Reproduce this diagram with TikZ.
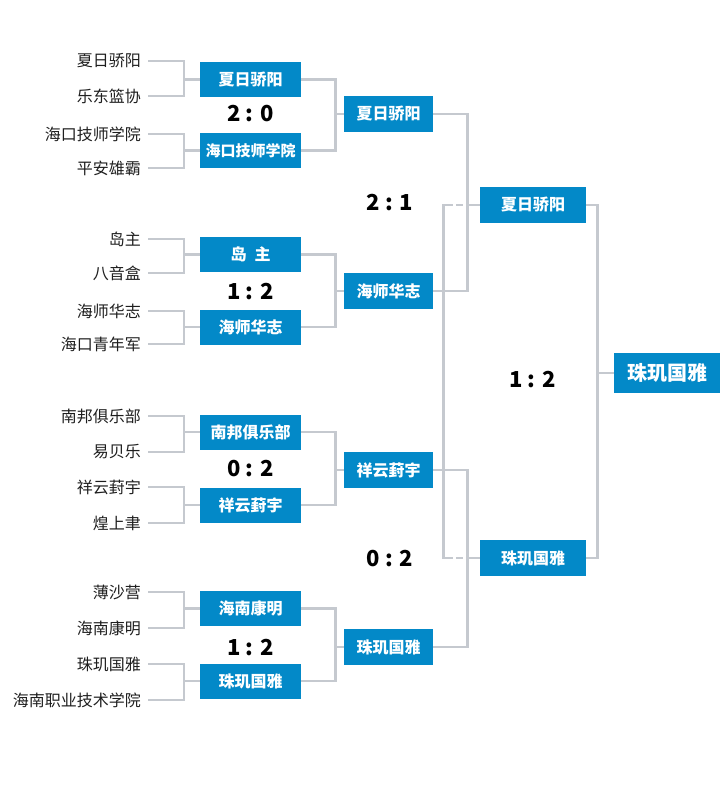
\documentclass[tikz,border=0pt]{standalone}
\usepackage{fontspec}
\setmainfont{Noto Sans CJK SC}
\definecolor{boxblue}{HTML}{0389C8}
\definecolor{linegray}{HTML}{C5C9CF}
\definecolor{namegray}{HTML}{1E1E1E}

\begin{document}
\begin{tikzpicture}[x=1pt,y=-1pt,
    link/.style={draw=linegray,line width=2.8pt},
    cross dash/.style={dash pattern=on 14pt off 3pt on 7pt off 3pt on 371pt off 3pt on 7pt off 3pt on 30pt},
    team node/.style={anchor=east,inner xsep=7pt,inner ysep=0pt,text=namegray,font=\fontsize{16}{16}\selectfont},
    win node/.style={fill=boxblue,text=white,inner sep=0pt,minimum height=35pt,font=\bfseries\fontsize{16}{16}\selectfont},
    score node/.style={inner sep=0pt,font=\bfseries\fontsize{22}{22}\selectfont}]

    \useasboundingbox (0,0) rectangle (721,808);

    % teams
    \node[team node] (1) at (148,61) {夏日骄阳};
    \node[team node] (2) at (148,96) {乐东篮协};
    \node[team node] (3) at (148,134) {海口技师学院};
    \node[team node] (4) at (148,168) {平安雄霸};
    \node[team node] (5) at (148,239) {岛主};
    \node[team node] (6) at (148,273) {八音盒};
    \node[team node] (7) at (148,311) {海师华志};
    \node[team node] (8) at (148,344) {海口青年军};
    \node[team node] (9) at (148,416) {南邦俱乐部};
    \node[team node] (10) at (148,452) {易贝乐};
    \node[team node] (11) at (148,487) {祥云葑宇};
    \node[team node] (12) at (148,523) {煌上聿};
    \node[team node] (13) at (148,592) {薄沙营};
    \node[team node] (14) at (148,628) {海南康明};
    \node[team node] (15) at (148,664) {珠玑国雅};
    \node[team node] (16) at (148,700) {海南职业技术学院};

    % first round
    \node[win node,minimum width=101pt] (w1) at (250.5,79.5) {夏日骄阳};
    \node[win node,minimum width=101pt,font=\bfseries\fontsize{15}{15}\selectfont] (w2) at (250.5,150.5) {海口技师学院};
    \node[win node,minimum width=101pt] (w3) at (250.5,254.5) {岛\enspace 主};
    \node[win node,minimum width=101pt] (w4) at (250.5,327) {海师华志};
    \node[win node,minimum width=101pt] (w5) at (250.5,432) {南邦俱乐部};
    \node[win node,minimum width=101pt] (w6) at (250.5,505) {祥云葑宇};
    \node[win node,minimum width=101pt] (w7) at (250.5,608.5) {海南康明};
    \node[win node,minimum width=101pt] (w8) at (250.5,681) {珠玑国雅};

    \node[score node] (r1) at (250.5,114) {2 : 0};
    \node[score node] (r2) at (250.5,292) {1 : 2};
    \node[score node] (r3) at (250.5,469) {0 : 2};
    \node[score node] (r4) at (250.5,648) {1 : 2};

    % second round
    \node[win node,minimum width=89pt,minimum height=36pt] (s1) at (388.5,114) {夏日骄阳};
    \node[win node,minimum width=89pt,minimum height=36pt] (s2) at (388.5,291) {海师华志};
    \node[win node,minimum width=89pt,minimum height=36pt] (s3) at (388.5,470) {祥云葑宇};
    \node[win node,minimum width=89pt,minimum height=36pt] (s4) at (388.5,647) {珠玑国雅};

    \node[score node] (r5) at (390,203) {2 : 1};
    \node[score node] (r6) at (390,559) {0 : 2};

    % semi-final and final
    \node[win node,minimum width=106pt,minimum height=36pt] (f1) at (533,205) {夏日骄阳};
    \node[win node,minimum width=106pt,minimum height=36pt] (f2) at (533,558) {珠玑国雅};
    \node[score node] (r7) at (532.5,380) {1 : 2};
    \node[win node,minimum width=106pt,minimum height=40pt,font=\bfseries\fontsize{20}{20}\selectfont] (c) at (667,373) {珠玑国雅};

    \draw[link] (1.east) -- ++(36,0) |- (w1.west);
    \draw[link] (2.east) -- ++(36,0) |- (w1.west);
    \draw[link] (3.east) -- ++(36,0) |- (w2.west);
    \draw[link] (4.east) -- ++(36,0) |- (w2.west);
    \draw[link] (5.east) -- ++(36,0) |- (w3.west);
    \draw[link] (6.east) -- ++(36,0) |- (w3.west);
    \draw[link] (7.east) -- ++(36,0) |- (w4.west);
    \draw[link] (8.east) -- ++(36,0) |- (w4.west);
    \draw[link] (9.east) -- ++(36,0) |- (w5.west);
    \draw[link] (10.east) -- ++(36,0) |- (w5.west);
    \draw[link] (11.east) -- ++(36,0) |- (w6.west);
    \draw[link] (12.east) -- ++(36,0) |- (w6.west);
    \draw[link] (13.east) -- ++(36,0) |- (w7.west);
    \draw[link] (14.east) -- ++(36,0) |- (w7.west);
    \draw[link] (15.east) -- ++(36,0) |- (w8.west);
    \draw[link] (16.east) -- ++(36,0) |- (w8.west);

    \draw[link] (w1.east) -- ++(34,0) |- (s1.west);
    \draw[link] (w2.east) -- ++(34,0) |- (s1.west);
    \draw[link] (w3.east) -- ++(34,0) |- (s2.west);
    \draw[link] (w4.east) -- ++(34,0) |- (s2.west);
    \draw[link] (w5.east) -- ++(34,0) |- (s3.west);
    \draw[link] (w6.east) -- ++(34,0) |- (s3.west);
    \draw[link] (w7.east) -- ++(34,0) |- (s4.west);
    \draw[link] (w8.east) -- ++(34,0) |- (s4.west);

    \draw[link] (s1.east) -- ++(34,0) |- (f1.west);
    \draw[link] (s2.east) -- ++(34,0) |- (f1.west);
    \draw[link] (s3.east) -- ++(34,0) |- (f2.west);
    \draw[link] (s4.east) -- ++(34,0) |- (f2.west);

    \draw[link,cross dash] (f1.west) -- ++(-36,0) |- (f2.west);

    \draw[link] (f1.east) -- ++(11,0) |- (c.west);
    \draw[link] (f2.east) -- ++(11,0) |- (c.west);
\end{tikzpicture}
\end{document}
